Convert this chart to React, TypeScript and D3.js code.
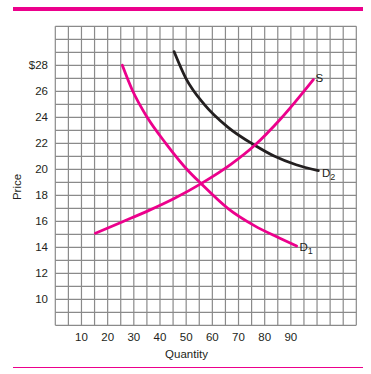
import React from "react";
import * as d3 from "d3";

const supplyQ = [15.3, 25.5, 35.4, 45.4, 55.7, 67.2, 76.2, 86.4, 98.6];
const supplyP = [15.08, 15.95, 16.8, 17.75, 18.9, 20.4, 21.85, 23.95, 26.9];
const d1Q = [25.6, 29.4, 35.1, 42.2, 50.5, 55.7, 65.9, 76.2, 85.8, 92.2];
const d1P = [28.0, 26.1, 24.0, 22.0, 19.95, 18.9, 17.0, 15.65, 14.7, 14.1];
const d2Q = [45.4, 49.9, 56.9, 65.9, 76.2, 83.8, 92, 100.5];
const d2P = [29.05, 27.0, 25.0, 23.25, 21.85, 21.0, 20.35, 19.9];
const yTicks = [10, 12, 14, 16, 18, 20, 22, 24, 26, 28];
const xTicks = [10, 20, 30, 40, 50, 60, 70, 80, 90];

const PINK = "#ec008c";
const INK = "#231f20";
const GRID = "#8a8a8a";
const FONT = "'Liberation Sans', Arial, Helvetica, sans-serif";

export default function App() {
  const x = d3.scaleLinear().domain([0, 115]).range([55.3, 356.3]);
  const y = d3.scaleLinear().domain([8, 31]).range([325.3, 26.3]);
  const line = d3
    .line<[number, number]>()
    .x((d) => x(d[0]))
    .y((d) => y(d[1]))
    .curve(d3.curveMonotoneX);
  const zip = (a: number[], b: number[]) => a.map((v, i) => [v, b[i]] as [number, number]);

  const vLines = d3.range(0, 116, 5);
  const hLines = d3.range(8, 32, 1);

  return (
    <svg
      width={371}
      height={374}
      style={{ position: "absolute", left: 0, top: 0 }}
      fontFamily={FONT}
    >
      <rect x={13} y={7} width={350} height={4} fill={PINK} />
      <g stroke={GRID} strokeWidth={1.2}>
        {vLines.map((v) => (
          <line key={"v" + v} x1={x(v)} x2={x(v)} y1={y(31)} y2={y(8)} />
        ))}
        {hLines.map((h) => (
          <line key={"h" + h} x1={x(0)} x2={x(115)} y1={y(h)} y2={y(h)} />
        ))}
      </g>
      <g fontSize={11.5} fill={INK} textAnchor="end">
        {yTicks.map((t) => (
          <text key={t} x={48} y={y(t)} dy="0.35em">
            {t === 28 ? "$28" : String(t)}
          </text>
        ))}
      </g>
      <g fontSize={11.5} fill={INK} textAnchor="middle">
        {xTicks.map((t) => (
          <text key={t} x={x(t)} y={341}>
            {t}
          </text>
        ))}
      </g>
      <text x={186.5} y={357.5} fontSize={11.5} fill={INK} textAnchor="middle">
        Quantity
      </text>
      <text
        transform="translate(21,187) rotate(-90)"
        fontSize={11.5}
        fill={INK}
        textAnchor="middle"
      >
        Price
      </text>
      <path d={line(zip(d2Q, d2P)) || ""} fill="none" stroke={INK} strokeWidth={2.8} strokeLinecap="round" />
      <path d={line(zip(d1Q, d1P)) || ""} fill="none" stroke={PINK} strokeWidth={2.8} strokeLinecap="round" />
      <path d={line(zip(supplyQ, supplyP)) || ""} fill="none" stroke={PINK} strokeWidth={2.8} strokeLinecap="round" />
      <g fontSize={11.5} fill={INK}>
        <text x={315.5} y={82}>S</text>
        <text x={322} y={177}>
          D<tspan fontSize={9} dy={3}>2</tspan>
        </text>
        <text x={299.5} y={251}>
          D<tspan fontSize={9} dy={3}>1</tspan>
        </text>
      </g>
      <line x1={13} x2={363} y1={367.5} y2={367.5} stroke={PINK} strokeWidth={1.2} />
    </svg>
  );
}
